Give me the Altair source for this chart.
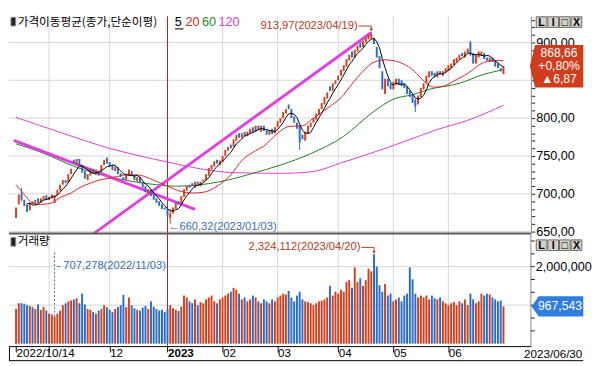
import altair as alt
import pandas as pd
import numpy as np

# ---------------- data ----------------
# one bar per trading day, 2022/10/14 .. 2023/06/30 (index 0..177)
opens = [668, 686, 700, 692, 686, 678, 690, 686, 694, 688, 692, 698,
         692, 694, 688, 698, 704, 712, 718, 715, 726, 745, 738, 746, 738, 730, 718, 724, 733, 725, 730, 728, 738, 748,
         742, 738, 730, 735, 727, 722, 718, 724, 730, 725, 716, 722, 716, 710, 700, 706, 698, 694, 690, 686, 682,
         680, 668, 674, 680, 690, 688, 696, 704, 712, 714, 708, 716, 710, 716, 718, 724, 732, 736, 745, 738,
         742, 750, 757, 765, 762, 770, 780, 774, 782, 776, 780, 788, 782, 790, 782, 790, 784, 778, 786, 780,
         788, 794, 800, 806, 818, 812, 802, 794, 790, 778, 770, 780, 788, 794, 798, 804, 812, 818, 826, 842, 836, 845,
         850, 856, 862, 868, 876, 888, 880, 888, 900, 894, 900, 904, 906, 906, 894, 882, 862, 832, 852, 846,
         838, 844, 852, 850, 846, 842, 836, 832, 824, 818, 828, 838, 846, 854, 862, 860, 854, 862, 856, 860,
         862, 866, 870, 874, 878, 886, 880, 886, 900, 886, 872, 880, 882, 886, 880, 874, 880, 876, 872, 866, 858]
closes = [682, 699, 692, 684, 676, 688, 686, 692, 688, 694, 697, 692,
          696, 699, 698, 705, 712, 718, 714, 726, 733, 740, 746, 738, 728, 720, 726, 733, 727, 732, 724, 738, 745, 740,
          736, 731, 736, 726, 722, 718, 725, 732, 724, 718, 722, 714, 708, 702, 706, 697, 692, 688, 684, 680, 679,
          671, 674, 682, 688, 686, 697, 706, 710, 708, 710, 716, 712, 716, 719, 726, 734, 738, 743, 740, 744,
          750, 758, 762, 760, 772, 778, 774, 780, 776, 782, 786, 781, 790, 784, 790, 783, 778, 784, 779, 788,
          796, 800, 808, 812, 812, 800, 794, 786, 768, 772, 782, 790, 794, 800, 806, 812, 820, 828, 834, 836, 846, 850,
          856, 864, 870, 878, 884, 880, 890, 896, 893, 902, 906, 910, 911, 898, 880, 866, 838, 852, 842, 838,
          848, 852, 844, 842, 840, 832, 828, 820, 815, 830, 840, 846, 856, 862, 856, 854, 862, 858, 862, 866,
          870, 872, 878, 880, 884, 882, 888, 892, 884, 872, 884, 888, 888, 878, 876, 880, 874, 868, 866, 861.79, 868.66]
# volume in thousand shares (listed /1000)
vol_k = [900, 1050, 1050, 1040, 1000, 980, 950, 900, 1020, 880, 950, 860,
         780, 760, 707.278, 780, 860, 1000, 1050, 1100, 1120, 1150, 1180, 1050, 1300, 1020, 900, 880, 820, 780, 860, 900, 1000, 950,
         880, 820, 900, 950, 1000, 1270, 950, 1200, 1000, 920, 880, 860, 940, 980, 900, 1100, 960, 900, 860, 880, 820,
         900, 1000, 920, 880, 850, 960, 1250, 1200, 1100, 1050, 1150, 1000, 1080, 1050, 1150, 1200, 1250, 1100, 1050, 1150,
         1200, 1250, 1300, 1350, 1450, 1400, 1300, 1150, 1200, 1100, 1150, 1250, 1200, 1100, 1050, 1150, 1100, 1050, 1150, 1100,
         1200, 1250, 1300, 1280, 1370, 1200, 1100, 1250, 1350, 1150, 1100, 1080, 1050, 1000, 1050, 1100, 1120, 1150, 1200, 1500, 1250, 1350,
         1300, 1400, 1350, 1600, 1650, 1450, 1980, 1600, 1700, 1500, 1650, 1950, 1880, 2324.112, 2000, 1520, 1350, 1550, 1250, 1300,
         1100, 1150, 1200, 1100, 1250, 1300, 1980, 1670, 1300, 1200, 1250, 1200, 1250, 1150, 1250, 1180, 1150, 1200, 1100, 1050,
         1000, 1050, 1080, 1000, 1100, 1050, 1150, 1000, 1300, 1150, 1050, 1100, 1300, 1250, 1300, 1280, 1200, 1150, 1100, 1120, 967.543]

wick_idx = [2, 56, 103, 129, 145, 165]
wick_hi = [708, 680, 790, 913.97, 826, 902]
wick_lo = [690, 660.32, 758, 904, 808, 882]

ma20_idx = [0, 3, 6, 9, 13, 16, 20, 23, 27, 30, 33, 37, 40, 44, 50, 55, 60, 64, 68, 73, 78, 82, 87, 90,
            95, 99, 104, 108, 113, 118, 122, 126, 130, 134, 137, 141, 144, 147, 150, 152, 155, 160, 164, 169, 173, 177]
ma20_val = [712, 699, 688, 686, 688, 695, 701, 708, 714, 718, 720, 723, 725, 725, 718, 710, 703, 701, 702, 710, 725, 744, 757, 763,
            780, 789, 790, 800, 813, 827, 845, 862, 874, 877, 876, 871, 864, 853, 843, 841, 842, 851, 859, 872, 876, 876]
ma60_idx = [0, 9, 22, 37, 51, 58, 67, 79, 85, 96, 107, 119, 130, 137, 144, 150, 161, 170, 177]
ma60_val = [766, 755, 735, 720, 712, 710, 712, 720, 726, 738, 753, 776, 809, 825, 831, 838, 846, 858, 864]
ma120_idx = [0, 17, 34, 45, 55, 67, 79, 96, 107, 119, 130, 141, 153, 164, 177]
ma120_val = [801, 780, 760, 750, 742, 733, 728, 727, 729, 742, 755, 769, 785, 797, 817]

# two trend lines: start (bar index, price) -> end (bar index, price)
trend_start_x = [-0.8, 28.2]
trend_start_y = [770.5, 647.4]
trend_end_x = [65.0, 128.9]
trend_end_y = [679.5, 912.8]

month_idx = [12, 34, 75, 95, 117, 137, 157]
year_idx = 55
xlabel_idx = [0, 12, 34, 55, 75, 95, 117, 137, 157]
xlabel_txt = ["2022/10/14", "", "12", "2023", "02", "03", "04", "05", "06"]
last_date = "2023/06/30"
price_grid = [650, 700, 750, 800, 850, 900]
vol_grid = [1000000, 2000000]
vol_ticks = [333333, 666667, 1000000, 1333333, 1666667, 2000000, 2333333, 2666667]
vol_labels = [2000000]

hi_idx, hi_val, hi_date = 129, 913.97, "2023/04/19"
lo_idx, lo_val, lo_date = 56, 660.32, "2023/01/03"
vmax_idx, vmax_date = 130, "2023/04/20"
vmin_idx, vmin_date = 14, "2022/11/03"

# ---------------- styling ----------------
UP, DOWN = "#d2401e", "#2b6cc4"
GRID = "#d6d6d6"
W, H1, H2 = 538, 224, 116
H = H1 + H2
NUMF = "Liberation Sans"
KRF = "Noto Sans CJK KR"

xs = alt.Scale(domain=[-0.8, 185.2], nice=False, zero=False)
ps = alt.Scale(domain=[647.4, 934.6], range=[H1, 0], nice=False, zero=False)
vs = alt.Scale(domain=[-63000, 2859000], range=[H, H1], nice=False, zero=False)

df = pd.DataFrame({"idx": range(len(closes)), "open": opens, "close": closes,
                   "vol": [round(v * 1000) for v in vol_k]})
df["dir"] = np.where(df["close"] >= df["open"], "up", "down")
df["ma5"] = df["close"].rolling(5).mean()
dir_color = alt.Color("dir:N", scale=alt.Scale(domain=["up", "down"], range=[UP, DOWN]), legend=None)

def fmt_dec(v):
    return f"{v:,.2f}".replace(".", ",")

last_c, prev_c = closes[-1], closes[-2]

lab_expr = ""
for i, t in zip(xlabel_idx, xlabel_txt):
    lab_expr += f"datum.value == {i} ? '{t}' : "
lab_expr += "''"
x_axis = alt.Axis(orient="bottom", values=xlabel_idx, labelExpr=lab_expr, labelAlign="left", labelFlush=False,
                  labelFontWeight={"condition": {"test": f"datum.value == {year_idx}", "value": "bold"}, "value": "normal"},
                  tickSize=6, tickColor="#000", domainColor="#000", domainWidth=1, labelPadding=-4,
                  labelFont=NUMF, labelFontSize=12, labelColor="#000", labelOverlap=False, grid=False, title=None)
p_axis = alt.Axis(orient="right", values=list(range(650, 931, 10)),
                  labelExpr=f"datum.value % 50 == 0 && abs(datum.value - {last_c}) > 20 ? "
                            "replace(format(datum.value, '.2f'), '.', ',') : ''",
                  tickSize=4, tickColor="#222", domainColor="#8a8a8a", labelFont=NUMF, labelFontSize=13,
                  labelColor="#000", labelPadding=1, grid=False, title=None, labelOverlap=False)

def X(f):
    return alt.X(f"{f}:Q", scale=xs, axis=x_axis)
def PY(f, axis=False):
    return alt.Y(f"{f}:Q", scale=ps, axis=p_axis if axis else None)
def VY(f):
    return alt.Y(f"{f}:Q", scale=vs, axis=None)

one = pd.DataFrame({"a": [0]})
RED_T, BLUE_T = "#b43c22", "#3a6fb2"

def buttons(yc):
    out = []
    for k, g in enumerate(["L", "I", "□", "X"]):
        cx = W + 11 + 12 * k
        out.append(alt.Chart(one).mark_square(size=121, filled=True, fill="#d4d0c8", stroke="#6a6a6a",
                                              strokeWidth=1, opacity=1).encode(x=alt.value(cx), y=alt.value(yc)))
        out.append(alt.Chart(one).mark_text(text=g, font=NUMF, fontSize=11, fontWeight="bold", color="#000")
                   .encode(x=alt.value(cx), y=alt.value(yc + 1)))
    return out

layers = []
# grids
layers.append(alt.Chart(pd.DataFrame({"p": price_grid})).mark_rule(color=GRID).encode(y=PY("p", axis=True)))
layers.append(alt.Chart(pd.DataFrame({"g": vol_grid})).mark_rule(color=GRID).encode(y=VY("g")))
layers.append(alt.Chart(pd.DataFrame({"m": month_idx})).mark_rule(color=GRID).encode(x=X("m")))
layers.append(alt.Chart(pd.DataFrame({"m": [year_idx]})).mark_rule(color="#c01818").encode(x=X("m")))

# moving averages and trend lines
for ix, vv, col in [(ma120_idx, ma120_val, "#d83cd8"), (ma60_idx, ma60_val, "#1f7d1f")]:
    layers.append(alt.Chart(pd.DataFrame({"idx": ix, "v": vv})).mark_line(
        color=col, strokeWidth=1, interpolate="monotone").encode(x=X("idx"), y=PY("v")))
tdf = pd.DataFrame({"x": trend_start_x, "y": trend_start_y, "x2": trend_end_x, "y2": trend_end_y})
layers.append(alt.Chart(tdf).mark_rule(color="#e040e0", strokeWidth=3).encode(
    x=X("x"), y=PY("y"), x2="x2:Q", y2="y2:Q"))

# candles
wdf = pd.DataFrame({"idx": wick_idx, "hi": wick_hi, "lo": wick_lo}).merge(df[["idx", "dir"]], on="idx")
layers.append(alt.Chart(wdf).mark_rule(strokeWidth=1).encode(x=X("idx"), y=PY("hi"), y2="lo:Q", color=dir_color))
layers.append(alt.Chart(df).mark_bar(size=2).encode(x=X("idx"), y=PY("open"), y2="close:Q", color=dir_color))
layers.append(alt.Chart(pd.DataFrame({"idx": ma20_idx, "v": ma20_val})).mark_line(
    color="#d42424", strokeWidth=1, interpolate="monotone").encode(x=X("idx"), y=PY("v")))
layers.append(alt.Chart(df).mark_line(color="#000", strokeWidth=1).encode(x=X("idx"), y=PY("ma5")))

# volume bars
layers.append(alt.Chart(df).mark_bar(size=2).encode(x=X("idx"), y=VY("vol"), y2=alt.datum(0), color=dir_color))

# pane separator, volume axis (drawn by hand), bottom frame
layers.append(alt.Chart(one).mark_rule(color="#5a5a5a", strokeWidth=2).encode(
    x=alt.value(0), x2=alt.value(W), y=alt.value(H1)))
layers.append(alt.Chart(one).mark_rule(color="#8a8a8a").encode(x=alt.value(W), y=alt.value(H1), y2=alt.value(H)))
layers.append(alt.Chart(pd.DataFrame({"t": vol_ticks})).mark_rule(color="#222").encode(
    x=alt.value(W), x2=alt.value(W + 4), y=VY("t")))
layers.append(alt.Chart(pd.DataFrame({"t": vol_labels})).mark_text(
    align="left", baseline="middle", font=NUMF, fontSize=13, color="#000", dx=5).encode(
    x=alt.value(W), y=VY("t"), text=alt.Text("t:Q", format=",")))
layers.append(alt.Chart(one).mark_rule(color="#000").encode(
    x=alt.value(0), x2=alt.value(W + 54), y=alt.value(H + 15)))
layers.append(alt.Chart(one).mark_rule(color="#000").encode(
    x=alt.value(0.5), y=alt.value(H), y2=alt.value(H + 15)))

# price annotations
hi_df = pd.DataFrame({"idx": [hi_idx], "v": [hi_val], "t": [f"{fmt_dec(hi_val)}({hi_date})"]})
layers.append(alt.Chart(hi_df).mark_text(align="right", baseline="middle", dx=-14, dy=-6, font=NUMF,
                                         fontSize=11.5, color=RED_T).encode(x=X("idx"), y=PY("v"), text="t:N"))
layers.append(alt.Chart(hi_df).mark_rule(color=RED_T, xOffset=-13, x2Offset=0, yOffset=-6, y2Offset=-6).encode(
    x=X("idx"), x2="idx:Q", y=PY("v"), y2="v:Q"))
layers.append(alt.Chart(hi_df).mark_rule(color=RED_T, yOffset=-6, y2Offset=-2).encode(x=X("idx"), y=PY("v"), y2="v:Q"))
layers.append(alt.Chart(hi_df).mark_point(shape="triangle-down", filled=True, size=12, opacity=1, color=RED_T,
                                          yOffset=-2).encode(x=X("idx"), y=PY("v")))
lo_df = pd.DataFrame({"idx": [lo_idx], "v": [lo_val], "t": [f"←{fmt_dec(lo_val)}({lo_date})"]})
layers.append(alt.Chart(lo_df).mark_text(align="left", baseline="middle", dx=-2, dy=3, font=NUMF,
                                         fontSize=11.5, color=BLUE_T).encode(x=X("idx"), y=PY("v"), text="t:N"))

# volume annotations
vmax = int(df.loc[vmax_idx, "vol"])
vmax_df = pd.DataFrame({"idx": [vmax_idx], "v": [vmax], "t": [f"{vmax:,}({vmax_date})"]})
layers.append(alt.Chart(vmax_df).mark_text(align="right", baseline="middle", dx=-14, dy=-7, font=NUMF,
                                           fontSize=11.5, color=RED_T).encode(x=X("idx"), y=VY("v"), text="t:N"))
layers.append(alt.Chart(vmax_df).mark_rule(color=RED_T, xOffset=-13, x2Offset=0, yOffset=-7, y2Offset=-7).encode(
    x=X("idx"), x2="idx:Q", y=VY("v"), y2="v:Q"))
layers.append(alt.Chart(vmax_df).mark_rule(color=RED_T, yOffset=-7, y2Offset=-2).encode(x=X("idx"), y=VY("v"), y2="v:Q"))
layers.append(alt.Chart(vmax_df).mark_point(shape="triangle-down", filled=True, size=12, opacity=1, color=RED_T,
                                            yOffset=-2).encode(x=X("idx"), y=VY("v")))
vmin = int(df.loc[vmin_idx, "vol"])
vmin_df = pd.DataFrame({"idx": [vmin_idx], "v": [vmin], "t": [f"- {vmin:,}({vmin_date})"]})
layers.append(alt.Chart(vmin_df).mark_rule(color=BLUE_T, strokeDash=[2, 2]).encode(
    x=X("idx"), y=VY("v"), y2=alt.value(H1 + 18)))
layers.append(alt.Chart(vmin_df).mark_text(align="left", baseline="middle", dx=2, font=NUMF, fontSize=11.5,
                                           color=BLUE_T).encode(x=X("idx"), y=alt.value(H1 + 33), text="t:N"))

# last-value boxes
chg = last_c - prev_c
box_df = pd.DataFrame({"v": [last_c], "t1": [fmt_dec(last_c)],
                       "t2": ["+" + f"{chg / prev_c * 100:.2f}".replace(".", ",") + "%"],
                       "t3": ["▲" + f"{chg:.2f}".replace(".", ",")]})
layers.append(alt.Chart(box_df).mark_point(shape="M -1 0 L -0.81 -0.79 L 1 -0.79 L 1 0.79 L -0.81 0.79 Z",
                                           size=2809, filled=True, fill="#cf3d1c", stroke="#cf3d1c", opacity=1).encode(
    x=alt.value(W + 26.5), y=PY("v")))
for c, d in [("t1", -13), ("t2", 0), ("t3", 13)]:
    layers.append(alt.Chart(box_df).mark_text(font=NUMF, fontSize=12.5, color="#fff", dy=d, baseline="middle").encode(
        x=alt.value(W + 29), y=PY("v"), text=f"{c}:N"))
last_v = int(df["vol"].iloc[-1])
vbox_df = pd.DataFrame({"v": [last_v], "t": [f"{last_v:,}"]})
layers.append(alt.Chart(vbox_df).mark_point(shape="M -1 0 L -0.74 -0.37 L 1 -0.37 L 1 0.37 L -0.74 0.37 Z",
                                            size=2601, filled=True, fill="#2f7ee0", stroke="#2f7ee0", opacity=1).encode(
    x=alt.value(W + 27.5), y=VY("v")))
layers.append(alt.Chart(vbox_df).mark_text(font=NUMF, fontSize=12.5, color="#fff", baseline="middle").encode(
    x=alt.value(W + 30), y=VY("v"), text="t:N"))

# pane titles
layers.append(alt.Chart(one).mark_rect(fill="#222", stroke="#9a9a9a", strokeWidth=1).encode(
    x=alt.value(2), x2=alt.value(7), y=alt.value(1), y2=alt.value(10)))
layers.append(alt.Chart(one).mark_text(text="가격이동평균(종가,단순이평)", align="left", baseline="middle",
                                       font=KRF, fontSize=12, color="#000").encode(x=alt.value(9), y=alt.value(6)))
for t, c, xp in [("5", "#000", 171), ("20", "#d42424", 182), ("60", "#1f8a1f", 199), ("120", "#d83cd8", 216)]:
    layers.append(alt.Chart(one).mark_text(text=t, align="left", baseline="middle", font=NUMF, fontSize=13, color=c)
                  .encode(x=alt.value(xp), y=alt.value(6)))
layers.append(alt.Chart(one).mark_rule(color="#000").encode(x=alt.value(171), x2=alt.value(180), y=alt.value(13)))
layers.append(alt.Chart(one).mark_rect(fill="#222", stroke="#9a9a9a", strokeWidth=1).encode(
    x=alt.value(2), x2=alt.value(7), y=alt.value(H1 + 4), y2=alt.value(H1 + 13)))
layers.append(alt.Chart(one).mark_text(text="거래량", align="left", baseline="middle", font=KRF, fontSize=12,
                                       color="#000").encode(x=alt.value(9), y=alt.value(H1 + 8)))
layers += buttons(6)
layers += buttons(H1 + 12)
layers.append(alt.Chart(pd.DataFrame({"t": [last_date]})).mark_text(
    align="right", baseline="middle", font=NUMF, fontSize=12, color="#000").encode(
    x=alt.value(W + 53), y=alt.value(H + 8), text="t:N"))

chart = alt.layer(*layers).resolve_scale(y="independent").properties(
    width=W, height=H, padding=0, background="#ffffff").configure_view(stroke=None)

chart.save("out.html", embed_options={"renderer": "svg", "actions": False})
